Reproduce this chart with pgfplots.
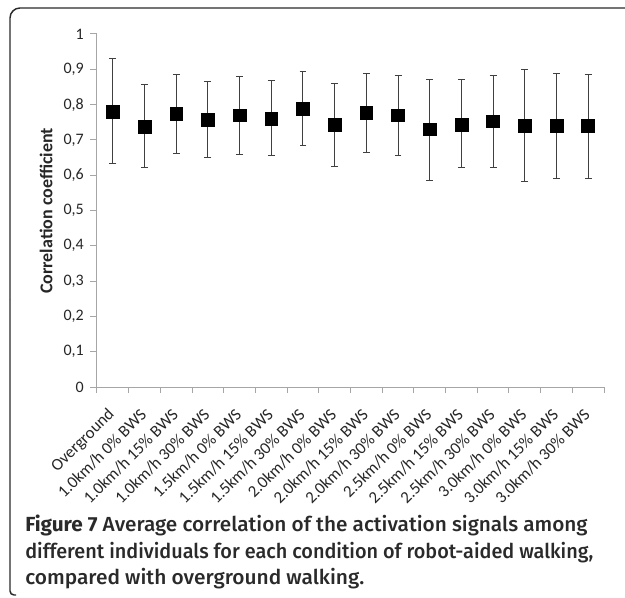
\documentclass[border=0pt]{standalone}
\usepackage{pgfplots}
\pgfplotsset{compat=1.18}
\usepackage{pgfplotstable}
\usepackage{fontspec}
\setmainfont{Carlito}
\newfontfamily\capfont{Fira Sans}[UprightFont=* Medium, BoldFont=* Bold]
\definecolor{axisgray}{HTML}{A6A6A6}
\definecolor{errgray}{HTML}{404040}
\definecolor{txt}{HTML}{262626}
\definecolor{framegray}{HTML}{2A2A2A}
\pgfplotstableread{
x y ep em
0 0.780 0.151 0.148
1 0.737 0.119 0.116
2 0.775 0.111 0.113
3 0.758 0.108 0.109
4 0.770 0.111 0.112
5 0.759 0.109 0.104
6 0.788 0.105 0.105
7 0.744 0.116 0.118
8 0.776 0.113 0.112
9 0.770 0.113 0.115
10 0.730 0.142 0.144
11 0.744 0.126 0.123
12 0.753 0.130 0.130
13 0.741 0.158 0.159
14 0.739 0.150 0.148
15 0.739 0.147 0.148
}\data
\begin{document}
\begin{tikzpicture}
\def\u{0.75pt}
\begin{axis}[
  at={(97*0.75pt,-387*0.75pt)}, anchor=south west,
  scale only axis, width=380.25pt, height=264.75pt,
  xmin=-0.5, xmax=15.5, ymin=0, ymax=1,
  axis x line*=bottom, axis y line*=left,
  axis line style={draw=axisgray, line width=0.75pt, -},
  tick align=outside,
  xtick={0,...,15},
  xticklabels={Overground,1.0km/h 0\% BWS,1.0km/h 15\% BWS,1.0km/h 30\% BWS,1.5km/h 0\% BWS,1.5km/h 15\% BWS,1.5km/h 30\% BWS,2.0km/h 0\% BWS,2.0km/h 15\% BWS,2.0km/h 30\% BWS,2.5km/h 0\% BWS,2.5km/h 15\% BWS,2.5km/h 30\% BWS,3.0km/h 0\% BWS,3.0km/h 15\% BWS,3.0km/h 30\% BWS},
  minor xtick={-0.5,0.5,...,15.5},
  major x tick style={draw=none},
  minor x tick style={draw=axisgray, line width=0.75pt},
  minor tick length=4.5pt,
  ytick={0,0.1,0.2,0.3,0.4,0.5,0.6,0.7,0.8,0.9,1},
  yticklabels={0,{0,1},{0,2},{0,3},{0,4},{0,5},{0,6},{0,7},{0,8},{0,9},1},
  y tick style={draw=axisgray, line width=0.75pt},
  major tick length=5.25pt,
  yticklabel style={font=\fontsize{12}{14}\selectfont, text=txt, inner sep=0pt, xshift=-4.5pt},
  xticklabel style={font=\fontsize{12.6}{14}\selectfont, text=txt, rotate=45, anchor=east, inner sep=0pt, xshift=-10pt, yshift=-9pt},
  clip=false,
]
\addplot[only marks, mark=square*, mark size=4.8pt, color=black,
  error bars/.cd, y dir=both, y explicit,
  error bar style={color=errgray, line width=0.75pt},
  error mark options={rotate=90, mark size=2.6pt, line width=0.75pt, color=errgray}]
  table[x=x, y=y, y error plus=ep, y error minus=em] {\data};
\end{axis}
\node[rotate=90, font=\bfseries\fontsize{13.5}{16}\selectfont, text=txt] at (46*\u,-211*\u) {Correlation coefficient};
\node[anchor=base west, inner sep=0pt, font=\capfont\addfontfeature{FakeStretch=1.018}\fontsize{15.3}{18}\selectfont, text=framegray] at (25*\u,-532*\u) {{\bfseries Figure 7} Average correlation of the activation signals among};
\node[anchor=base west, inner sep=0pt, font=\capfont\addfontfeature{FakeStretch=0.973}\fontsize{15.3}{18}\selectfont, text=framegray] at (25*\u,-558*\u) {different individuals for each condition of robot-aided walking,};
\node[anchor=base west, inner sep=0pt, font=\capfont\addfontfeature{FakeStretch=1.024}\fontsize{15.3}{18}\selectfont, text=framegray] at (25*\u,-584*\u) {compared with overground walking.};
\draw[line width=1.1pt, framegray, rounded corners=7.5pt] (10*\u,-300*\u) -- (10*\u,-8*\u) -- (640*\u,-8*\u);
\draw[line width=1.1pt, framegray, rounded corners=3pt] (10*\u,-300*\u) -- (10*\u,-595*\u) -- (16*\u,-595*\u);
\pgfresetboundingbox
\useasboundingbox (0,0) rectangle (625*\u,-598*\u);
\end{tikzpicture}
\end{document}
